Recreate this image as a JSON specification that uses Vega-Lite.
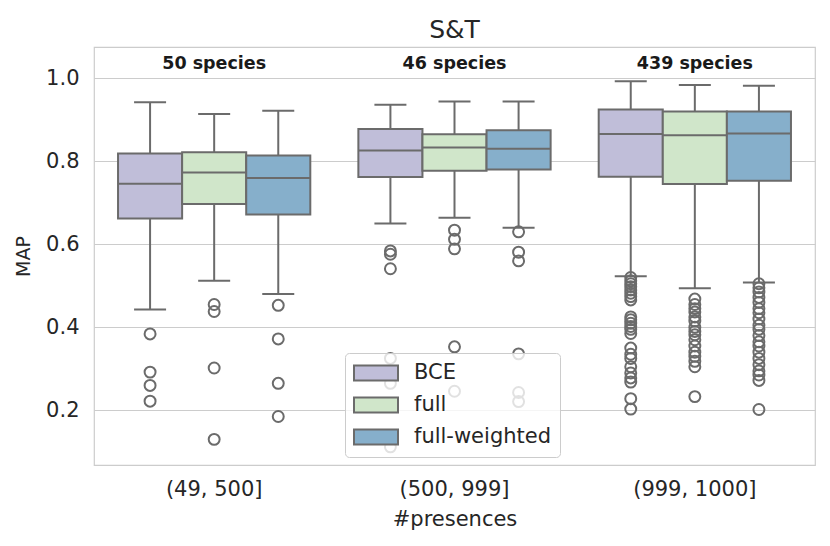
{
  "$schema": "https://vega.github.io/schema/vega-lite/v6.json",
  "width": 721,
  "height": 418,
  "autosize": {"type": "none"},
  "padding": {"left": 94, "top": 47, "right": 15, "bottom": 81},
  "background": "white",
  "title": {"text": "S&T", "fontSize": 25, "fontWeight": "normal", "color": "#262626", "font": "DejaVu Sans", "offset": 4},
  "config": {
    "font": "DejaVu Sans",
    "view": {"stroke": "#cccccc", "strokeWidth": 1.2},
    "axis": {"labelFont": "DejaVu Sans", "titleFont": "DejaVu Sans", "labelColor": "#262626", "titleColor": "#262626", "titleFontWeight": "normal", "labelFontSize": 21, "titleFontSize": 21, "ticks": false, "domain": false, "gridColor": "#cccccc", "gridWidth": 1.2}
  },
  "datasets": {
    "boxes": [
      {"group": "(49, 500]", "model": "BCE", "lower": 0.443, "q1": 0.662, "median": 0.746, "q3": 0.819, "upper": 0.942},
      {"group": "(49, 500]", "model": "full", "lower": 0.512, "q1": 0.697, "median": 0.773, "q3": 0.822, "upper": 0.914},
      {"group": "(49, 500]", "model": "full-weighted", "lower": 0.480, "q1": 0.672, "median": 0.760, "q3": 0.814, "upper": 0.922},
      {"group": "(500, 999]", "model": "BCE", "lower": 0.650, "q1": 0.762, "median": 0.826, "q3": 0.878, "upper": 0.936},
      {"group": "(500, 999]", "model": "full", "lower": 0.664, "q1": 0.777, "median": 0.833, "q3": 0.865, "upper": 0.944},
      {"group": "(500, 999]", "model": "full-weighted", "lower": 0.640, "q1": 0.780, "median": 0.830, "q3": 0.875, "upper": 0.944},
      {"group": "(999, 1000]", "model": "BCE", "lower": 0.523, "q1": 0.763, "median": 0.866, "q3": 0.925, "upper": 0.993},
      {"group": "(999, 1000]", "model": "full", "lower": 0.494, "q1": 0.745, "median": 0.863, "q3": 0.920, "upper": 0.984},
      {"group": "(999, 1000]", "model": "full-weighted", "lower": 0.508, "q1": 0.753, "median": 0.867, "q3": 0.920, "upper": 0.982}
    ],
    "outliers": [
      {"group": "(49, 500]", "model": "BCE", "value": 0.384},
      {"group": "(49, 500]", "model": "BCE", "value": 0.292},
      {"group": "(49, 500]", "model": "BCE", "value": 0.260},
      {"group": "(49, 500]", "model": "BCE", "value": 0.222},
      {"group": "(49, 500]", "model": "full", "value": 0.455},
      {"group": "(49, 500]", "model": "full", "value": 0.438},
      {"group": "(49, 500]", "model": "full", "value": 0.302},
      {"group": "(49, 500]", "model": "full", "value": 0.130},
      {"group": "(49, 500]", "model": "full-weighted", "value": 0.453},
      {"group": "(49, 500]", "model": "full-weighted", "value": 0.372},
      {"group": "(49, 500]", "model": "full-weighted", "value": 0.265},
      {"group": "(49, 500]", "model": "full-weighted", "value": 0.185},
      {"group": "(500, 999]", "model": "BCE", "value": 0.584},
      {"group": "(500, 999]", "model": "BCE", "value": 0.576},
      {"group": "(500, 999]", "model": "BCE", "value": 0.541},
      {"group": "(500, 999]", "model": "BCE", "value": 0.325},
      {"group": "(500, 999]", "model": "BCE", "value": 0.265},
      {"group": "(500, 999]", "model": "BCE", "value": 0.112},
      {"group": "(500, 999]", "model": "full", "value": 0.634},
      {"group": "(500, 999]", "model": "full", "value": 0.612},
      {"group": "(500, 999]", "model": "full", "value": 0.589},
      {"group": "(500, 999]", "model": "full", "value": 0.353},
      {"group": "(500, 999]", "model": "full", "value": 0.246},
      {"group": "(500, 999]", "model": "full-weighted", "value": 0.630},
      {"group": "(500, 999]", "model": "full-weighted", "value": 0.581},
      {"group": "(500, 999]", "model": "full-weighted", "value": 0.560},
      {"group": "(500, 999]", "model": "full-weighted", "value": 0.336},
      {"group": "(500, 999]", "model": "full-weighted", "value": 0.243},
      {"group": "(500, 999]", "model": "full-weighted", "value": 0.221},
      {"group": "(999, 1000]", "model": "BCE", "value": 0.520},
      {"group": "(999, 1000]", "model": "BCE", "value": 0.512},
      {"group": "(999, 1000]", "model": "BCE", "value": 0.505},
      {"group": "(999, 1000]", "model": "BCE", "value": 0.498},
      {"group": "(999, 1000]", "model": "BCE", "value": 0.490},
      {"group": "(999, 1000]", "model": "BCE", "value": 0.482},
      {"group": "(999, 1000]", "model": "BCE", "value": 0.474},
      {"group": "(999, 1000]", "model": "BCE", "value": 0.466},
      {"group": "(999, 1000]", "model": "BCE", "value": 0.425},
      {"group": "(999, 1000]", "model": "BCE", "value": 0.418},
      {"group": "(999, 1000]", "model": "BCE", "value": 0.410},
      {"group": "(999, 1000]", "model": "BCE", "value": 0.402},
      {"group": "(999, 1000]", "model": "BCE", "value": 0.395},
      {"group": "(999, 1000]", "model": "BCE", "value": 0.385},
      {"group": "(999, 1000]", "model": "BCE", "value": 0.350},
      {"group": "(999, 1000]", "model": "BCE", "value": 0.335},
      {"group": "(999, 1000]", "model": "BCE", "value": 0.325},
      {"group": "(999, 1000]", "model": "BCE", "value": 0.305},
      {"group": "(999, 1000]", "model": "BCE", "value": 0.290},
      {"group": "(999, 1000]", "model": "BCE", "value": 0.278},
      {"group": "(999, 1000]", "model": "BCE", "value": 0.268},
      {"group": "(999, 1000]", "model": "BCE", "value": 0.228},
      {"group": "(999, 1000]", "model": "BCE", "value": 0.203},
      {"group": "(999, 1000]", "model": "full", "value": 0.468},
      {"group": "(999, 1000]", "model": "full", "value": 0.455},
      {"group": "(999, 1000]", "model": "full", "value": 0.445},
      {"group": "(999, 1000]", "model": "full", "value": 0.437},
      {"group": "(999, 1000]", "model": "full", "value": 0.425},
      {"group": "(999, 1000]", "model": "full", "value": 0.415},
      {"group": "(999, 1000]", "model": "full", "value": 0.400},
      {"group": "(999, 1000]", "model": "full", "value": 0.390},
      {"group": "(999, 1000]", "model": "full", "value": 0.382},
      {"group": "(999, 1000]", "model": "full", "value": 0.370},
      {"group": "(999, 1000]", "model": "full", "value": 0.355},
      {"group": "(999, 1000]", "model": "full", "value": 0.340},
      {"group": "(999, 1000]", "model": "full", "value": 0.330},
      {"group": "(999, 1000]", "model": "full", "value": 0.318},
      {"group": "(999, 1000]", "model": "full", "value": 0.305},
      {"group": "(999, 1000]", "model": "full", "value": 0.233},
      {"group": "(999, 1000]", "model": "full-weighted", "value": 0.505},
      {"group": "(999, 1000]", "model": "full-weighted", "value": 0.495},
      {"group": "(999, 1000]", "model": "full-weighted", "value": 0.485},
      {"group": "(999, 1000]", "model": "full-weighted", "value": 0.472},
      {"group": "(999, 1000]", "model": "full-weighted", "value": 0.460},
      {"group": "(999, 1000]", "model": "full-weighted", "value": 0.445},
      {"group": "(999, 1000]", "model": "full-weighted", "value": 0.435},
      {"group": "(999, 1000]", "model": "full-weighted", "value": 0.420},
      {"group": "(999, 1000]", "model": "full-weighted", "value": 0.405},
      {"group": "(999, 1000]", "model": "full-weighted", "value": 0.395},
      {"group": "(999, 1000]", "model": "full-weighted", "value": 0.380},
      {"group": "(999, 1000]", "model": "full-weighted", "value": 0.365},
      {"group": "(999, 1000]", "model": "full-weighted", "value": 0.355},
      {"group": "(999, 1000]", "model": "full-weighted", "value": 0.340},
      {"group": "(999, 1000]", "model": "full-weighted", "value": 0.325},
      {"group": "(999, 1000]", "model": "full-weighted", "value": 0.310},
      {"group": "(999, 1000]", "model": "full-weighted", "value": 0.295},
      {"group": "(999, 1000]", "model": "full-weighted", "value": 0.285},
      {"group": "(999, 1000]", "model": "full-weighted", "value": 0.272},
      {"group": "(999, 1000]", "model": "full-weighted", "value": 0.202}
    ],
    "counts": [
      {"group": "(49, 500]", "label": "50 species"},
      {"group": "(500, 999]", "label": "46 species"},
      {"group": "(999, 1000]", "label": "439 species"}
    ]
  },
  "encoding": {
    "x": {"field": "group", "type": "nominal", "sort": ["(49, 500]", "(500, 999]", "(999, 1000]"],
      "scale": {"paddingInner": 0.2, "paddingOuter": 0.1},
      "axis": {"title": "#presences", "labelAngle": 0, "labelPadding": 13, "titlePadding": 9, "grid": false}}
  },
  "layer": [
    {
      "data": {"name": "boxes"},
      "mark": {"type": "rule", "color": "#6b6b6b", "strokeWidth": 2},
      "encoding": {
        "xOffset": {"field": "model", "type": "nominal", "sort": ["BCE", "full", "full-weighted"], "scale": {"paddingInner": 0, "paddingOuter": 0}},
        "y": {"field": "lower", "type": "quantitative", "scale": {"domain": [0.0682, 1.0754], "nice": false, "zero": false},
          "axis": {"title": "MAP", "titleFontSize": 19, "values": [0.2, 0.4, 0.6, 0.8, 1.0], "format": ".1f", "labelPadding": 15, "titlePadding": 12, "grid": true}},
        "y2": {"field": "upper"}
      }
    },
    {
      "data": {"name": "boxes"},
      "mark": {"type": "bar", "stroke": "#6b6b6b", "strokeWidth": 2, "opacity": 1},
      "encoding": {
        "xOffset": {"field": "model", "type": "nominal", "sort": ["BCE", "full", "full-weighted"]},
        "y": {"field": "q1", "type": "quantitative"},
        "y2": {"field": "q3"},
        "fill": {"field": "model", "type": "nominal", "sort": ["BCE", "full", "full-weighted"],
          "scale": {"domain": ["BCE", "full", "full-weighted"], "range": ["#c0bed9", "#d0e6ca", "#86afcb"]},
          "legend": {"title": null, "orient": "none", "legendX": 251, "legendY": 306, "padding": 8,
            "fillColor": "rgba(255,255,255,0.8)", "strokeColor": "#cccccc", "cornerRadius": 4,
            "symbolType": "M-2,-0.68H2V0.68H-2Z", "symbolSize": 484, "symbolOffset": 11, "symbolStrokeColor": "#6b6b6b", "symbolStrokeWidth": 2, "symbolOpacity": 1,
            "labelFontSize": 21, "labelColor": "#262626", "labelOffset": 26, "rowPadding": 8, "labelFont": "DejaVu Sans"}
        }
      }
    },
    {
      "data": {"name": "boxes"},
      "mark": {"type": "tick", "color": "#6b6b6b", "thickness": 2, "size": 64, "opacity": 1},
      "encoding": {
        "xOffset": {"field": "model", "type": "nominal", "sort": ["BCE", "full", "full-weighted"]},
        "y": {"field": "median", "type": "quantitative"}
      }
    },
    {
      "data": {"name": "boxes"},
      "mark": {"type": "tick", "color": "#6b6b6b", "thickness": 2, "size": 32, "opacity": 1},
      "encoding": {
        "xOffset": {"field": "model", "type": "nominal", "sort": ["BCE", "full", "full-weighted"]},
        "y": {"field": "lower", "type": "quantitative"}
      }
    },
    {
      "data": {"name": "boxes"},
      "mark": {"type": "tick", "color": "#6b6b6b", "thickness": 2, "size": 32, "opacity": 1},
      "encoding": {
        "xOffset": {"field": "model", "type": "nominal", "sort": ["BCE", "full", "full-weighted"]},
        "y": {"field": "upper", "type": "quantitative"}
      }
    },
    {
      "data": {"name": "outliers"},
      "mark": {"type": "point", "shape": "circle", "filled": false, "stroke": "#6b6b6b", "strokeWidth": 2, "size": 120, "opacity": 1},
      "encoding": {
        "xOffset": {"field": "model", "type": "nominal", "sort": ["BCE", "full", "full-weighted"]},
        "y": {"field": "value", "type": "quantitative"}
      }
    },
    {
      "data": {"name": "counts"},
      "mark": {"type": "text", "fontWeight": "bold", "fontSize": 17.5, "color": "#1a1a1a", "baseline": "middle", "font": "DejaVu Sans"},
      "encoding": {
        "y": {"datum": 1.034, "type": "quantitative"},
        "text": {"field": "label"}
      }
    }
  ]
}
